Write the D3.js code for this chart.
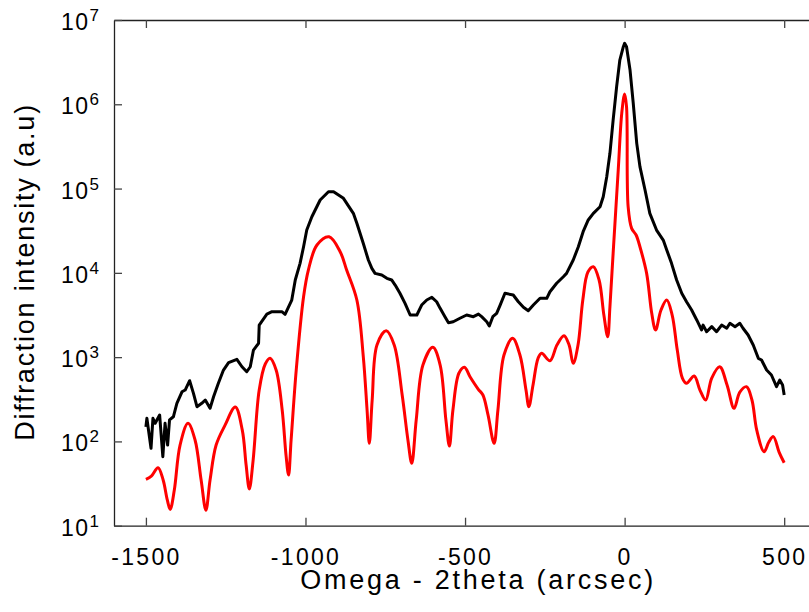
<!DOCTYPE html>
<html><head><meta charset="utf-8">
<script src="https://cdn.jsdelivr.net/npm/d3@7"></script>
<style>body{margin:0;background:#fff} svg{display:block}</style>
</head><body><svg id="chart" width="809" height="612"></svg>
<script>
// ---- data ----
const xTickValues = [-1500, -1000, -500, 0, 500];
const yTickValues = [1e1, 1e2, 1e3, 1e4, 1e5, 1e6, 1e7];
const yTickExponents = ["1", "2", "3", "4", "5", "6", "7"];
const xTitle = "Omega - 2theta (arcsec)";
const yTitle = "Diffraction intensity (a.u)";

// measured (black) curve
const measuredX = [-1500,-1497,-1484,-1478,-1471,-1457,-1447,-1440,-1432,-1426,-1414,-1403,-1387,-1377,-1363,-1351,-1340,-1325,-1314,-1299,-1288,-1273,-1257,-1241,-1215,-1199,-1184,-1173,-1163,-1147,-1145,-1121,-1105,-1074,-1064,-1043,-1032,-1017,-1006,-996,-980,-954,-928,-912,-881,-850,-839,-819,-803,-792,-782,-761,-745,-730,-719,-704,-688,-672,-651,-636,-620,-604,-589,-578,-563,-552,-537,-516,-495,-474,-458,-448,-432,-424,-413,-401,-390,-375,-349,-333,-317,-302,-286,-265,-244,-234,-213,-192,-182,-161,-145,-130,-114,-98,-77,-67,-56,-46,-36,-25,-15,-4,0,6,17,27,38,48,64,79,100,121,132,147,163,179,194,210,226,241,246,257,273,288,304,320,330,346,361,371,387,403,419,429,445,460,476,486,495,500];
const measuredY = [149,188,82.8,188,164,206,65.8,164,90.6,180,196,283,388,407,525,372,258,283,310,247,339,489,703,859,942,769,671,769,1213,1459,2404,3245,3460,3460,3222,4760,8230,12970,20400,32200,46300,73100,91700,91700,76600,50800,38700,22400,14200,11300,9860,9420,8610,8230,7170,5720,4350,3160,3160,4150,4760,5130,4540,3790,3020,2560,2630,2890,3160,3020,3245,3020,2630,2340,3020,3310,4150,5720,5460,4540,3900,3560,4150,4990,4990,5970,7520,9000,9860,14200,20400,30800,42400,50800,60900,80000,138000,262000,650000,1620000,3350000,4820000,5290000,4820000,2550000,1030000,344000,182000,96200,50800,32200,24500,18700,12970,8230,5720,4540,3620,2760,2100,2400,2000,2300,2000,2400,2200,2520,2300,2520,2200,1830,1393,968,925,703,614,446,535,467,355];

// simulated (red) curve
const simulatedX = [-1500,-1483,-1462,-1446,-1433,-1424,-1411,-1393,-1368,-1346,-1327,-1312,-1299,-1280,-1252,-1220,-1198,-1186,-1176,-1164,-1145,-1126,-1111,-1092,-1073,-1061,-1053,-1045,-1029,-1006,-991,-964,-926,-891,-871,-839,-819,-807,-800,-791,-776,-747,-722,-697,-679,-667,-653,-632,-601,-578,-560,-549,-538,-519,-502,-484,-459,-444,-428,-409,-397,-378,-351,-328,-309,-300,-287,-271,-260,-234,-212,-190,-174,-161,-146,-131,-115,-98,-80,-65,-53,-46,-36,-20,-9,0,6,11,22,36,48,69,85,97,114,132,149,165,181,194,218,236,254,273,298,321,343,361,382,399,414,437,452,466,484,500];
const simulatedY = [35.5,38.8,48.8,34.8,20.2,15.6,26.5,90.6,164,104,34.8,15.3,34.8,90.6,156,256,136,52.5,27.2,60.1,407,828,968,703,236,68.9,39.9,104,703,5210,10800,21400,26800,17700,10800,4760,1030,236,94.9,310,1393,2056,1393,355,104,55,180,806,1306,806,180,88.1,236,648,757,581,418,355,206,94.9,236,1060,1671,1060,407,258,467,975,1110,906,1393,1795,1393,845,1393,4760,10230,11830,8230,3160,1746,3960,17060,166000,782000,1324000,935000,60900,33700,28100,20400,9860,3310,2098,3620,4760,3160,1213,565,489,597,407,310,565,769,467,247,385,446,310,136,75.5,98.4,114,74.8,55.8];

(function () {
  const mLeft = 114, mTop = 20, mBottom = 525.7, mRight = 816.1;
  const font = "'Liberation Sans', Arial, Helvetica, sans-serif";
  const svg = d3.select('#chart');

  const x = d3.scaleLinear().domain([-1600, 600]).range([mLeft, mRight]);
  const y = d3.scaleLog().domain([1e1, 1e7]).range([mBottom, mTop]);

  const axisColor = "#222";

  // bottom axis
  const gx = svg.append('g').attr('transform', `translate(0,${mBottom})`)
    .call(d3.axisBottom(x).tickValues(xTickValues).tickSizeInner(-8).tickSizeOuter(0));
  gx.select('.domain').attr('stroke', axisColor).attr('stroke-width', 1.3);
  gx.selectAll('.tick line').attr('stroke', '#444').attr('stroke-width', 1.3);
  gx.selectAll('.tick text')
    .attr('y', 39.3).attr('dy', 0)
    .attr('font-family', font).attr('font-size', 23)
    .attr('letter-spacing', '2.3px').attr('fill', '#000')
    .text(d => (d < 0 ? '-' : '') + Math.abs(d));

  // top axis (ticks only)
  const gt = svg.append('g').attr('transform', `translate(0,${mTop})`)
    .call(d3.axisTop(x).tickValues(xTickValues).tickSizeInner(-8).tickSizeOuter(0).tickFormat(''));
  gt.select('.domain').attr('stroke', axisColor).attr('stroke-width', 1.3);
  gt.selectAll('.tick line').attr('stroke', '#444').attr('stroke-width', 1.3);

  // left axis
  const gy = svg.append('g').attr('transform', `translate(${mLeft},0)`)
    .call(d3.axisLeft(y).tickValues(yTickValues).tickSizeInner(-8).tickSizeOuter(0).tickFormat(''));
  gy.select('.domain').attr('stroke', axisColor).attr('stroke-width', 1.3);
  gy.selectAll('.tick line').attr('stroke', '#444').attr('stroke-width', 1.3);

  // y tick labels 10^n
  const yl = svg.append('g').selectAll('text').data(yTickValues).join('text')
    .attr('x', 61).attr('y', d => y(d) + 10)
    .attr('font-family', font).attr('fill', '#000');
  yl.append('tspan').attr('font-size', 23).attr('letter-spacing', '1.5px').text('10');
  yl.append('tspan').attr('font-size', 17).attr('dy', -9).text((d, i) => yTickExponents[i]);

  // titles
  svg.append('text')
    .attr('x', 476.7).attr('y', 589.3)
    .attr('text-anchor', 'middle')
    .attr('font-family', font).attr('font-size', 27).attr('fill', '#000')
    .attr('textLength', 353).attr('lengthAdjust', 'spacing')
    .text(xTitle);
  svg.append('text')
    .attr('transform', `translate(34,${(mTop + mBottom) / 2}) rotate(-90)`)
    .attr('text-anchor', 'middle')
    .attr('font-family', font).attr('font-size', 27).attr('fill', '#000')
    .attr('textLength', 336).attr('lengthAdjust', 'spacing')
    .text(yTitle);

  // curves
  const measured = measuredX.map((v, i) => [v, measuredY[i]]);
  const simulated = simulatedX.map((v, i) => [v, simulatedY[i]]);

  svg.append('path').datum(measured)
    .attr('fill', 'none').attr('stroke', '#000').attr('stroke-width', 3)
    .attr('stroke-linejoin', 'round')
    .attr('d', d3.line().x(d => x(d[0])).y(d => y(d[1])).curve(d3.curveLinear));

  svg.append('path').datum(simulated)
    .attr('fill', 'none').attr('stroke', '#ff0000').attr('stroke-width', 3)
    .attr('stroke-linejoin', 'round')
    .attr('d', d3.line().x(d => x(d[0])).y(d => y(d[1])).curve(d3.curveCatmullRom.alpha(0.5)));
})();
</script>
</body></html>
